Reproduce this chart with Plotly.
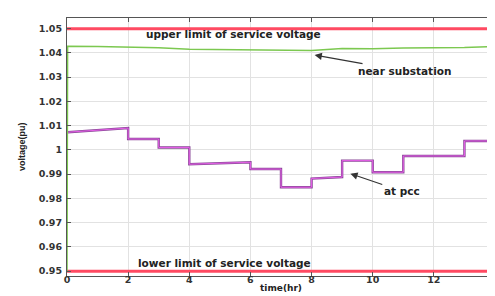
import plotly.graph_objects as go

# near substation voltage (pu)
sub_t = [0, 0.02, 1, 2, 3, 4, 5, 6, 7, 8, 9, 10, 11, 12, 13, 14]
sub_v = [0.95, 1.0427, 1.0426, 1.0424, 1.0421, 1.0415, 1.0414, 1.0412, 1.0411, 1.041, 1.0418, 1.0417, 1.042, 1.042, 1.0422, 1.0427]

# voltage at pcc (pu), step-like
pcc_t = [0.02, 1, 2, 2, 3, 3, 4, 4, 5, 6, 6, 7, 7, 8, 8, 9, 9, 10, 10, 11, 11, 13, 13, 14]
pcc_v = [1.0073, 1.0080, 1.009, 1.0045, 1.0045, 1.001, 1.001, 0.9941, 0.9944, 0.9949, 0.9921, 0.9921, 0.9846, 0.9846, 0.9882,
         0.9888, 0.9956, 0.9956, 0.9908, 0.9908, 0.9975, 0.9975, 1.0037, 1.0037]

upper_limit = 1.05
lower_limit = 0.95
x_ticks = [0, 2, 4, 6, 8, 10, 12, 14]
y_ticks = [0.95, 0.96, 0.97, 0.98, 0.99, 1.0, 1.01, 1.02, 1.03, 1.04, 1.05]
y_tick_text = ["0.95", "0.96", "0.97", "0.98", "0.99", "1", "1.01", "1.02", "1.03", "1.04", "1.05"]

FONT = "Liberation Sans, Arial, sans-serif"
WIDE = "DejaVu Sans, sans-serif"

fig = go.Figure()
fig.add_trace(go.Scatter(x=[0, 14], y=[upper_limit, upper_limit], mode="lines",
                         line=dict(color="#ff4a62", width=3), hoverinfo="skip"))
fig.add_trace(go.Scatter(x=[0, 14], y=[lower_limit, lower_limit], mode="lines",
                         line=dict(color="#ff4a62", width=3), hoverinfo="skip"))
fig.add_trace(go.Scatter(x=pcc_t, y=pcc_v, mode="lines",
                         line=dict(color="#8a4a98", width=2.4)))
fig.add_trace(go.Scatter(x=pcc_t, y=pcc_v, mode="lines",
                         line=dict(color="#f060f0", width=0.9)))
fig.add_trace(go.Scatter(x=sub_t, y=sub_v, mode="lines",
                         line=dict(color="#7cc850", width=1.5)))

tfont = dict(family=WIDE, size=10.5, color="#222222")
fig.add_annotation(x=5.45, y=1.0478, text="<b>upper limit of service voltage</b>", showarrow=False, font=tfont)
fig.add_annotation(x=5.15, y=0.9532, text="<b>lower limit of service voltage</b>", showarrow=False, font=tfont)
fig.add_annotation(x=8.1, y=1.0391, text="<b>near substation</b>", showarrow=True,
                   ax=11.05, ay=1.0325, axref="x", ayref="y", arrowhead=2, arrowsize=1.2,
                   arrowwidth=1.2, arrowcolor="#333333", font=tfont)
fig.add_annotation(x=9.27, y=0.9902, text="<b>at pcc</b>", showarrow=True,
                   ax=10.95, ay=0.983, axref="x", ayref="y", arrowhead=2, arrowsize=1.2,
                   arrowwidth=1.2, arrowcolor="#333333", font=tfont)
# y-axis title placed as annotation (outer position as in reference)
fig.add_annotation(xref="paper", yref="paper", x=-0.105, y=0.5, xanchor="center", yanchor="middle",
                   text="<b>voltage(pu)</b>", textangle=-90, showarrow=False,
                   font=dict(family=FONT, size=9, color="#222222"))

axis_common = dict(showgrid=True, gridcolor="#e2e2e2", gridwidth=1, showline=True, linecolor="#555555",
                   linewidth=1, mirror="ticks", ticks="inside", ticklen=4, tickcolor="#555555",
                   zeroline=False, automargin=False, tickfont=dict(family=WIDE, size=9.5, color="#333333"))
fig.update_xaxes(range=[0, 14], tickvals=x_ticks, ticktext=[f"<b>{t}</b>" for t in x_ticks],
                 ticklabelstandoff=-5, **axis_common,
                 title=dict(text="<b>time(hr)</b>", font=dict(family=WIDE, size=9, color="#222222"), standoff=0))
fig.update_yaxes(range=[0.948, 1.0544], tickvals=y_ticks, ticktext=[f"<b>{t}</b>" for t in y_tick_text],
                 ticklabelstandoff=2, **axis_common)

fig.update_layout(width=495, height=296, margin=dict(l=59, r=8, t=10, b=28, autoexpand=False),
                  plot_bgcolor="white", paper_bgcolor="white", showlegend=False)
fig.write_html("out.html")
